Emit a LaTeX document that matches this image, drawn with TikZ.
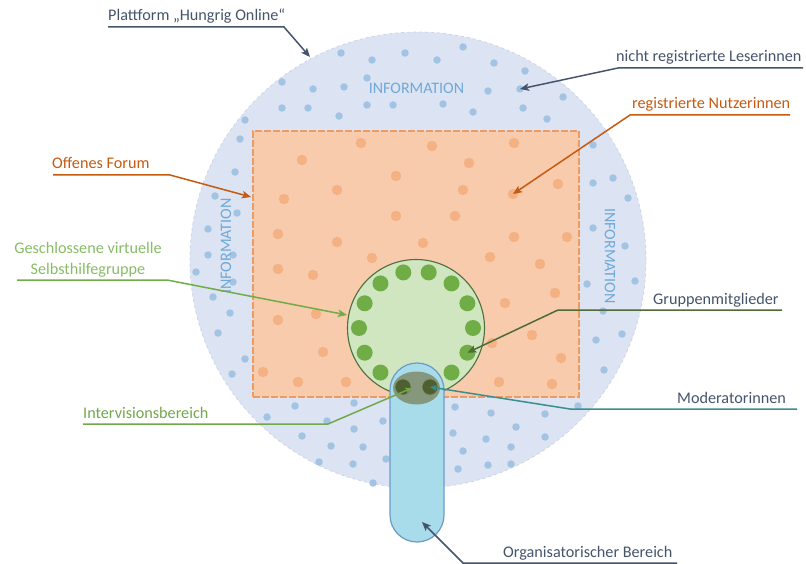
\documentclass[tikz,border=0pt]{standalone}
\usepackage{fontspec}
\setmainfont{Carlito}
\usetikzlibrary{shapes.geometric,arrows.meta}
\definecolor{platfill}{HTML}{DCE3F2}
\definecolor{platedge}{HTML}{CDD4E6}
\definecolor{dotblue}{HTML}{A2C4E2}
\definecolor{forumfill}{HTML}{F8CBAD}
\definecolor{forumedge}{HTML}{EE9B62}
\definecolor{dotorange}{HTML}{F4B183}
\definecolor{grpfill}{HTML}{CFE6C0}
\definecolor{grpedge}{HTML}{4F7039}
\definecolor{grpgreen}{HTML}{70AD47}
\definecolor{orgfill}{HTML}{A9DCEB}
\definecolor{orgedge}{HTML}{6C9AC9}
\definecolor{intfill}{HTML}{85987D}
\definecolor{moddot}{HTML}{4F6030}
\definecolor{slate}{HTML}{44546A}
\definecolor{orangetxt}{HTML}{C55A11}
\definecolor{greentxt}{HTML}{88BC66}
\definecolor{intgreen}{HTML}{70A84A}
\definecolor{gmline}{HTML}{4F6B37}
\definecolor{tealline}{HTML}{3C8D8E}
\definecolor{infoblue}{HTML}{6FA9D8}
\begin{document}
\begin{tikzpicture}[x=1pt,y=-1pt,
  lbl/.style={font=\fontsize{16.2}{21}\selectfont, inner sep=0pt, anchor=base west},
  info/.style={font=\fontsize{16}{19}\selectfont, text=infoblue, inner sep=0pt},
  bdot/.style={circle, fill=dotblue, minimum size=7.5pt, inner sep=0pt},
  odot/.style={circle, fill=dotorange, minimum size=10.5pt, inner sep=0pt},
  gdot/.style={circle, fill=grpgreen, minimum size=16pt, inner sep=0pt},
  mdot/.style={circle, fill=moddot, draw=moddot!70!white, line width=0.6pt, minimum size=16pt, inner sep=0pt},
  conn/.style={line width=1.5pt, -{Stealth[length=9pt,width=7.5pt,inset=2pt]}},
  sconn/.style={line width=1.5pt, -{Stealth[length=6.5pt,width=5.5pt,inset=1.5pt]}},
]
\useasboundingbox (0,0) rectangle (806,564);

% platform circle
\node[circle, minimum size=456pt, inner sep=0pt, fill=platfill, draw=platedge, dashed, line width=0.8pt] (platform) at (418,260) {};
\foreach \x/\y [count=\i] in {341/53,372/60,405/53,282/82,313/89,344/87,367/78,282/108,308/108,339/116,367/105,393/105,
  245/120,240/139,235/172,215/196,237/213,208/229,208/255,233/255,
  463/47,437/60,494/63,525/71,488/91,520/89,443/104,473/112,523/108,547/119,563/97,593/145,593/183,613/178,628/198,593/228,625/246,
  196/272,233/282,213/297,230/313,218/333,245/359,232/374,295/406,267/417,354/403,327/421,383/421,302/436,354/429,331/446,363/447,319/462,353/464,386/459,373/483,
  587/284,635/281,603/311,596/340,622/334,604/370,578/406,455/407,491/413,545/414,516/427,453/433,486/439,545/437,463/451,511/447,458/469,488/465,511/464}
  \node[bdot] (b\i) at (\x,\y) {};

% open forum
\node[rectangle, minimum width=326pt, minimum height=266pt, inner sep=0pt, fill=forumfill, draw=forumedge, line width=1.1pt, dash pattern=on 7pt off 2pt] (forum) at (416,264) {};
\foreach \x/\y [count=\i] in {361/143,302/160,396/176,337/190,284/199,396/216,278/234,337/242,372/258,
  432/146,514/143,469/163,463/190,513/194,558/184,455/216,514/237,567/237,423/243,490/257,
  278/269,313/275,278/320,316/314,323/352,263/372,298/382,346/382,
  540/264,555/293,505/303,532/335,492/343,561/358,499/382,552/384}
  \node[odot] (o\i) at (\x,\y) {};

% closed group
\node[circle, minimum size=137pt, inner sep=0pt, fill=grpfill, draw=grpedge, line width=1.1pt] (group) at (416,328) {};
\foreach \a [count=\i] in {77.14,102.86,128.57,154.29,180,205.71,231.43,308.57,334.29,0,25.71,51.43}
  \path (group.center) ++(\a:57pt) node[gdot] (g\i) {};

% organisational area
\node[rectangle, rounded corners=27pt, minimum width=54pt, minimum height=179pt, inner sep=0pt, fill=orgfill, draw=orgedge, line width=1.2pt] (orga) at (417,452.5) {};
\node[ellipse, minimum width=47pt, minimum height=33pt, inner sep=0pt, fill=intfill] (interv) at (416.5,388) {};
\node[mdot] (m1) at (403,387) {};
\node[mdot] (m2) at (430,387) {};

% INFORMATION
\node[info] (infoT) at (416.5,88) {INFORMATION};
\node[info, rotate=90] (infoL) at (226,246) {INFORMATION};
\node[info, rotate=-90] (infoR) at (610,256) {INFORMATION};

% labels
\node[lbl, text=slate] (lPlat) at (108,21) {Plattform „Hungrig Online“};
\coordinate (kPlatA) at (108,27); \coordinate (kPlatB) at (284,27); \coordinate (tPlat) at (310,57);
\draw[conn, slate] (kPlatA) -- (kPlatB) -- (tPlat);

\node[lbl, text=slate] (lLes) at (616,62) {nicht registrierte Leserinnen};
\coordinate (kLesA) at (803,68); \coordinate (kLesB) at (618,68);
\draw[conn, slate] (kLesA) -- (kLesB) -- (b26.center);

\node[lbl, text=orangetxt] (lNutz) at (632,109) {registrierte Nutzerinnen};
\coordinate (kNutzA) at (790,115); \coordinate (kNutzB) at (630,115);
\draw[conn, orangetxt] (kNutzA) -- (kNutzB) -- (o14.center);

\node[lbl, text=orangetxt] (lForum) at (52,169) {Offenes Forum};
\coordinate (kForA) at (53,175); \coordinate (kForB) at (170,175); \coordinate (tFor) at (251,197);
\draw[conn, orangetxt] (kForA) -- (kForB) -- (tFor);

\node[font=\fontsize{16.2}{21}\selectfont, inner sep=0pt, align=center, text=greentxt] (lGrp) at (88,259.5) {Geschlossene virtuelle\\Selbsthilfegruppe};
\coordinate (kGrpA) at (17,280); \coordinate (kGrpB) at (167,280); \coordinate (tGrp) at (347,315);
\draw[conn, grpgreen] (kGrpA) -- (kGrpB) -- (tGrp);

\node[lbl, text=intgreen] (lInt) at (83,418) {Intervisionsbereich};
\coordinate (kIntA) at (83,424); \coordinate (kIntB) at (328,424); \coordinate (tInt) at (412,388);
\draw[sconn, intgreen] (kIntA) -- (kIntB) -- (tInt);

\node[lbl, text=slate] (lGm) at (653,304) {Gruppenmitglieder};
\coordinate (kGmA) at (782,310); \coordinate (kGmB) at (558,310);
\draw[conn, gmline] (kGmA) -- (kGmB) -- (g9.center);

\node[lbl, text=slate] (lMod) at (677,403) {Moderatorinnen};
\coordinate (kModA) at (797,409); \coordinate (kModB) at (570,409);
\draw[sconn, tealline] (kModA) -- (kModB) -- (m2.center);

\node[lbl, text=slate] (lOrg) at (503,557) {Organisatorischer Bereich};
\coordinate (kOrgA) at (677,563); \coordinate (kOrgB) at (463,563); \coordinate (tOrg) at (422,522);
\draw[conn, slate] (kOrgA) -- (kOrgB) -- (tOrg);
\end{tikzpicture}
\end{document}
